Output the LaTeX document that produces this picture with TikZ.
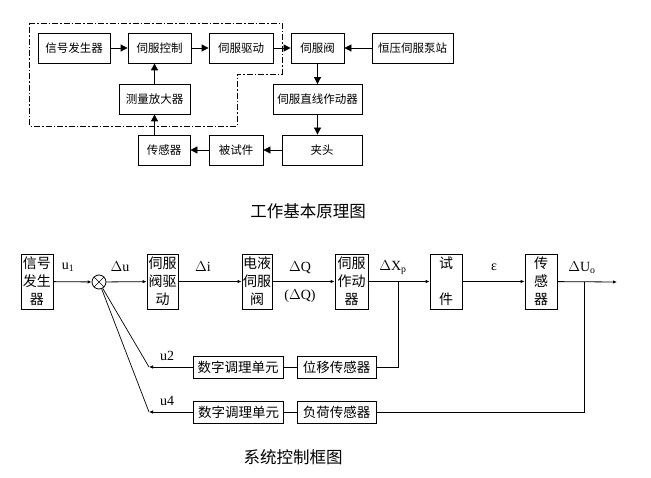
\documentclass[tikz,border=0pt]{standalone}
\usepackage{fontspec}
\setmainfont{Noto Sans CJK SC}
\newfontfamily\latfont{Liberation Serif}
\usepackage{tikz}
\usetikzlibrary{arrows.meta,calc,positioning}

\begin{document}
\begin{tikzpicture}[x=1pt,y=-1pt,
  topbox/.style={draw,line width=0.8pt,minimum height=30pt,inner sep=0pt,font=\fontsize{11.5}{13}\selectfont},
  colbox/.style={draw,line width=0.8pt,minimum width=31pt,minimum height=55pt,inner sep=0pt,align=center,font=\fontsize{14}{18}\selectfont},
  rowbox/.style={draw,line width=0.8pt,minimum height=22pt,inner sep=0pt,font=\fontsize{13.5}{16}\selectfont},
  toparr/.style={-{Triangle[length=7pt,width=7pt]},line width=0.8pt},
  botarr/.style={-{Latex[length=4pt,width=3.5pt]},line width=0.8pt},
  sigtext/.style={font=\latfont\fontsize{14}{16}\selectfont},
  caption/.style={font=\fontsize{16.5}{18}\selectfont}]
  \useasboundingbox (0,0) rectangle (651,478);

  % 工作基本原理图
  \draw[line width=0.7pt,dash pattern=on 6pt off 2pt on 1.5pt off 2pt]
    (29,23) -- (282,23) -- (282,74) -- (237,74) -- (237,126) -- (29,126) -- cycle;
  \node[topbox,minimum width=72pt] (gen) at (74,48) {信号发生器};
  \node[topbox,minimum width=63pt] (ctrl) at (159.5,48) {伺服控制};
  \node[topbox,minimum width=64pt] (drv) at (241,48) {伺服驱动};
  \node[topbox,minimum width=53pt] (valve) at (317.5,48) {伺服阀};
  \node[topbox,minimum width=81pt] (pump) at (412.5,48) {恒压伺服泵站};
  \node[topbox,minimum width=71pt] (amp) at (154.5,99) {测量放大器};
  \node[topbox,minimum width=89pt] (act) at (317.5,99.5) {伺服直线作动器};
  \node[topbox,minimum width=80pt] (clamp) at (322,150) {夹头};
  \node[topbox,minimum width=54pt] (spec) at (236,150) {被试件};
  \node[topbox,minimum width=52pt] (sens) at (164,150) {传感器};

  \draw[toparr] (gen) -- (ctrl);
  \draw[toparr] (ctrl) -- (drv);
  \draw[toparr] (drv) -- (valve);
  \draw[toparr] (pump) -- (valve);
  \draw[toparr] (valve.south) -- (valve.south |- act.north);
  \draw[toparr] (act.south) -- (act.south |- clamp.north);
  \draw[toparr] (clamp) -- (spec);
  \draw[toparr] (spec) -- (sens);
  \draw[toparr] (amp.south |- sens.north) -- (amp.south);
  \draw[toparr] (amp.north) -- (amp.north |- ctrl.south);

  \node[caption] (cap1) at (308,211) {工作基本原理图};

  % 系统控制框图
  \node[colbox,minimum width=32pt] (sgen) at (37,281.5) {信号\\发生\\器};
  \node[draw,circle,line width=0.8pt,minimum size=14pt,inner sep=0pt] (sum) at (99,282) {};
  \draw[line width=0.6pt] (sum.north west) -- (sum.south east) (sum.north east) -- (sum.south west);
  \node[colbox] (vdrv) at (162.5,281.5) {伺服\\阀驱\\动};
  \node[colbox,minimum width=30pt] (ehv) at (257,281.5) {电液\\伺服\\阀};
  \node[colbox,minimum width=33pt] (sact) at (351.5,281.5) {伺服\\作动\\器};
  \node[colbox,minimum width=32pt] (tspec) at (446,281.5) {试\\[18pt]件};
  \node[colbox,minimum width=32pt] (tsens) at (541,281.5) {传\\感\\器};
  \coordinate (out) at (617,282);
  \coordinate (xp) at (398,282);
  \coordinate (uo) at (584,282);

  \node[rowbox,minimum width=90pt] (cond1) at (238,367) {数字调理单元};
  \node[rowbox,minimum width=79pt] (dsens) at (336.5,367) {位移传感器};
  \node[rowbox,minimum width=90pt] (cond2) at (238.5,412) {数字调理单元};
  \node[rowbox,minimum width=79pt] (lsens) at (336.5,412) {负荷传感器};
  \coordinate (fb1) at (149,367);
  \coordinate (fb2) at (149,412);

  \draw[botarr] (sgen) -- (sum);
  \draw[botarr] (sum) -- (vdrv);
  \draw[botarr] (vdrv) -- (ehv);
  \draw[botarr] (ehv) -- (sact);
  \draw[botarr] (sact) -- (tspec);
  \draw[botarr] (tspec) -- (tsens);
  \draw[botarr] (tsens) -- (out);
  \draw[line width=0.8pt] (xp) |- (dsens.east);
  \draw[line width=0.8pt] (uo) |- (lsens.east);
  \draw[line width=0.8pt] (dsens) -- (cond1);
  \draw[line width=0.8pt] (lsens) -- (cond2);
  \draw[botarr] (cond1) -- (fb1);
  \draw[botarr] (cond2) -- (fb2);
  \draw[line width=0.7pt] (fb1) -- (sum);
  \draw[line width=0.7pt] (fb2) -- (sum);

  \node[sigtext] (lu1) at (68,267) {u\textsubscript{1}};
  \node[sigtext] (ldu) at (120,267) {$\Delta$u};
  \node[sigtext] (ldi) at (203,267) {$\Delta$i};
  \node[sigtext] (ldq) at (300,268) {$\Delta$Q};
  \node[sigtext] (ldq2) at (300,296) {($\Delta$Q)};
  \node[sigtext] (ldx) at (393,268) {$\Delta$X\textsubscript{p}};
  \node[sigtext] (leps) at (494,267) {ε};
  \node[sigtext] (lduo) at (582,268) {$\Delta$U\textsubscript{o}};
  \node[sigtext] (lu2) at (167,356) {u2};
  \node[sigtext] (lu4) at (167,401) {u4};

  \node[caption] (cap2) at (293,457) {系统控制框图};
\end{tikzpicture}
\end{document}
